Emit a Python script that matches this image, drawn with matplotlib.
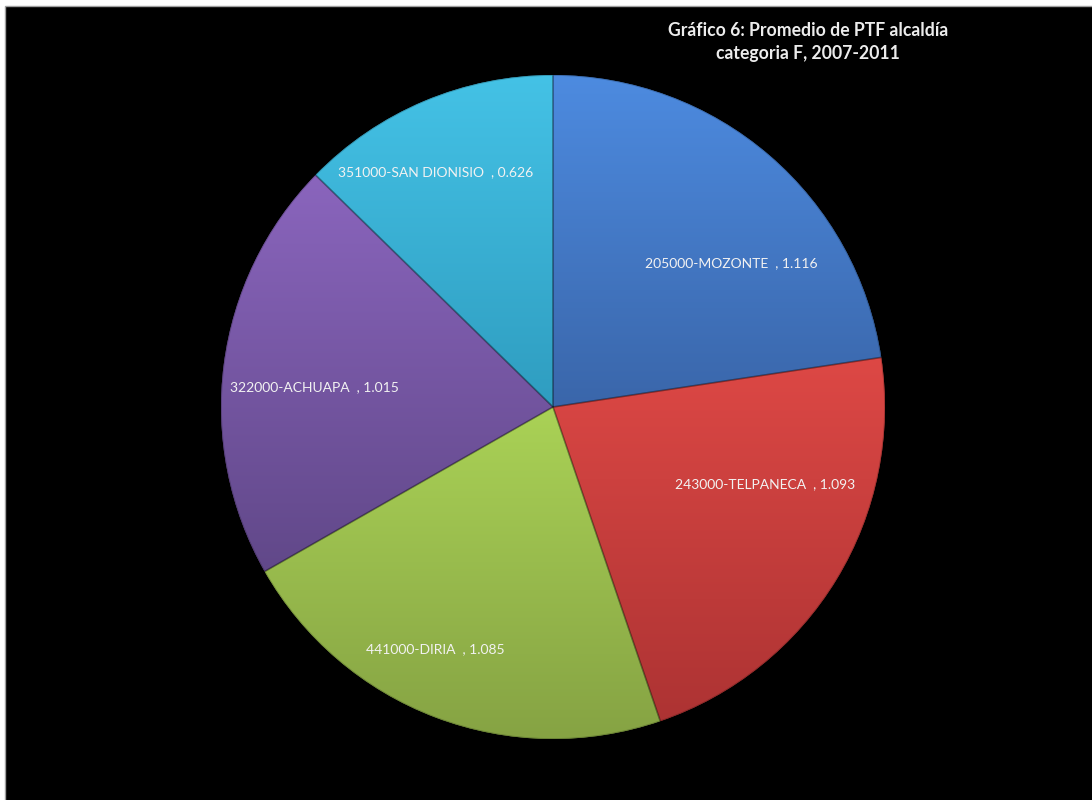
import matplotlib.pyplot as plt
from matplotlib.patches import Rectangle, Wedge
import numpy as np
from matplotlib.colors import to_rgb

# PTF average per municipality, category F
municipios = ["205000-MOZONTE ", "243000-TELPANECA ", "441000-DIRIA ",
              "322000-ACHUAPA ", "351000-SAN DIONISIO "]
ptf = [1.116, 1.093, 1.085, 1.015, 0.626]

# top / bottom shade of each slice
top_colors = ["#4d8be0", "#dd4845", "#aad256", "#8a65bd", "#44c2e6"]
bottom_colors = ["#3a66aa", "#ad3333", "#85a243", "#614889", "#2f9dc0"]

# label placement inside each slice: (fraction of radius, angle shift in degrees)
label_layout = [(0.69, -10.3), (0.68, 11.4), (0.81, -5.2), (0.72, 2.5), (0.79, 3.7)]

W, H = 1092, 800
fig = plt.figure(figsize=(W / 100, H / 100), dpi=100, facecolor="white")
ax = fig.add_axes([0, 0, 1, 1])
ax.set_axis_off()

# black chart area with thin grey border (white strip on top and left)
ax.add_patch(Rectangle((5, -2), W, H - 6 + 2, facecolor="black",
                       edgecolor="#a0a0a0", linewidth=1, zorder=0))

cx, cy, r = 553, H - 407, 332
wedges, _ = ax.pie(ptf, startangle=90, counterclock=False, center=(cx, cy),
                   radius=r, colors=top_colors,
                   wedgeprops=dict(linewidth=0))

for w, c0, c1 in zip(wedges, top_colors, bottom_colors):
    w.set_zorder(1)
    v = w.get_path().vertices
    y0, y1 = v[:, 1].min(), v[:, 1].max()
    x0, x1 = v[:, 0].min(), v[:, 0].max()
    t = np.linspace(0, 1, 256)[:, None]
    grad = (1 - t) * np.array(to_rgb(c0)) + t * np.array(to_rgb(c1))
    im = ax.imshow(grad[:, None, :], extent=(x0, x1, y0, y1), origin="upper",
                   aspect="auto", interpolation="bilinear", zorder=2)
    im.set_clip_path(w)
    # soft bevel edge
    ax.add_patch(Wedge((cx, cy), r, w.theta1, w.theta2, facecolor="none",
                       edgecolor=(0, 0, 0, 0.22), linewidth=1.2, zorder=3))

label_font = ["Lato", "DejaVu Sans"]
for w, name, val, (frac, shift) in zip(wedges, municipios, ptf, label_layout):
    ang = np.deg2rad((w.theta1 + w.theta2) / 2 + shift)
    ax.text(cx + frac * r * np.cos(ang), cy + frac * r * np.sin(ang),
            f"{name} , {val:.3f}", color="#f2f2f2", fontsize=10,
            family=label_font, ha="center", va="center", zorder=4)

ax.text(808, H - 42, "Gráfico 6: Promedio de PTF alcaldía\ncategoria F, 2007-2011",
        color="#ececec", fontsize=12.7, fontweight="bold", family=label_font,
        ha="center", va="center", linespacing=1.45, zorder=4)

ax.set_xlim(0, W)
ax.set_ylim(0, H)

fig.savefig("out.png", dpi=100, facecolor="white")
